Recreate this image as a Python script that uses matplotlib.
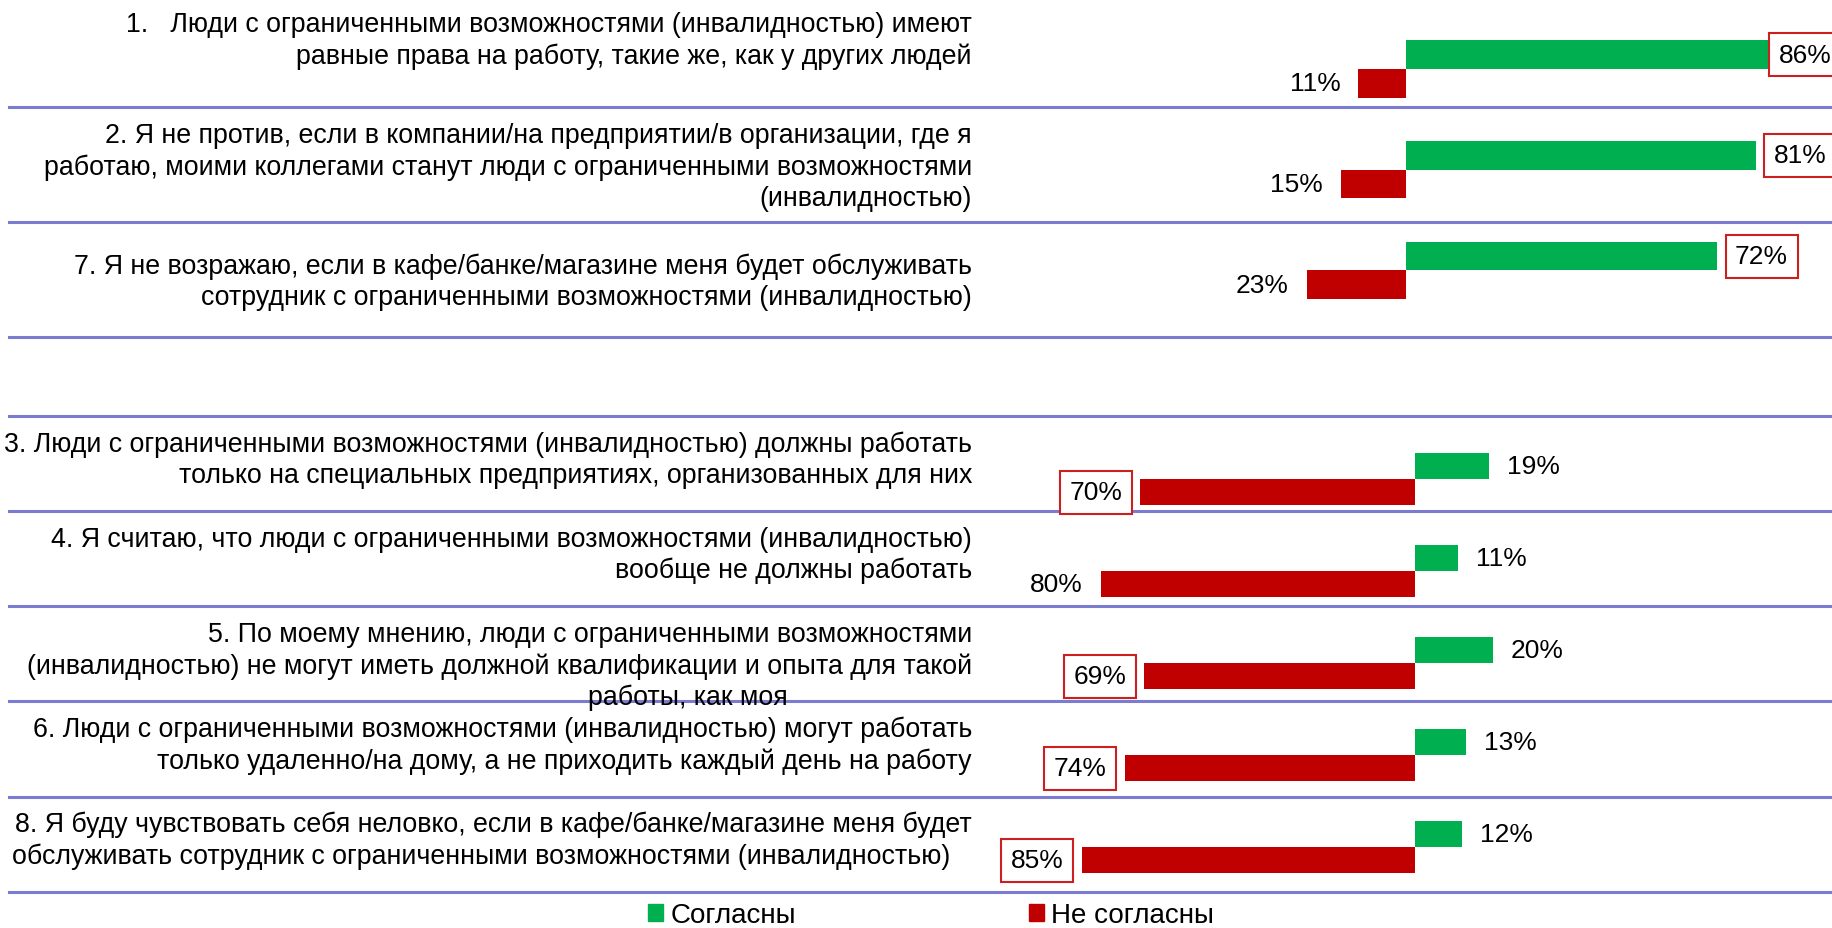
import matplotlib.pyplot as plt
from matplotlib.patches import Patch
from matplotlib.lines import Line2D

plt.rcParams['font.family'] = ['Liberation Sans', 'DejaVu Sans']

# statements with mostly "agree" answers
top_labels = [
    "1.   Люди с ограниченными возможностями (инвалидностью) имеют\n"
    "равные права на работу, такие же, как у других людей",
    "2. Я не против, если в компании/на предприятии/в организации, где я\n"
    "работаю, моими коллегами станут люди с ограниченными возможностями\n"
    "(инвалидностью)",
    "7. Я не возражаю, если в кафе/банке/магазине меня будет обслуживать\n"
    "сотрудник с ограниченными возможностями (инвалидностью)",
]
top_agree = [86, 81, 72]
top_disagree = [11, 15, 23]

# statements with mostly "disagree" answers
bot_labels = [
    "3. Люди с ограниченными возможностями (инвалидностью) должны работать\n"
    "только на специальных предприятиях, организованных для них",
    "4. Я считаю, что люди с ограниченными возможностями (инвалидностью)\n"
    "вообще не должны работать",
    "5. По моему мнению, люди с ограниченными возможностями\n"
    "(инвалидностью) не могут иметь должной квалификации и опыта для такой",
    "6. Люди с ограниченными возможностями (инвалидностью) могут работать\n"
    "только удаленно/на дому, а не приходить каждый день на работу",
    "8. Я буду чувствовать себя неловко, если в кафе/банке/магазине меня будет\n"
    "обслуживать сотрудник с ограниченными возможностями (инвалидностью)   ",
]
bot_tail = "работы, как моя"  # 3rd line of statement 5
bot_agree = [19, 11, 20, 13, 12]
bot_disagree = [70, 80, 69, 74, 85]

legend_names = ["Согласны", "Не согласны"]

# which labels are framed in the original
top_boxed = [True, True, True]
bot_boxed = [True, False, True, True, True]

GREEN = '#00B050'
RED = '#C00000'
BOX_EDGE = '#CC1F1F'
LINE = '#7B7BCF'
FS = 19.25
PFS = 19
LSP = 1.27

W, H = 1833, 929
fig = plt.figure(figsize=(W / 100, H / 100), dpi=100)


def fx(px):
    return px / W


def fy(py):
    return 1 - py / H


box = dict(boxstyle='square,pad=0.36', fc='white', ec=BOX_EDGE, lw=1.5)


def draw_panel(rect, xlim, ylim, agree, disagree, h, pad, agree_box, dis_box, clamp):
    ax = fig.add_axes(rect)
    ax.set_facecolor('none')
    ax.set_zorder(2)
    y = list(range(len(agree)))
    ax.barh([i - h / 2 for i in y], agree, height=h, color=GREEN)
    ax.barh([i + h / 2 for i in y], [-v for v in disagree], height=h, color=RED)
    for i, v in enumerate(agree):
        x = min(v + pad, clamp)
        ax.text(x, i - h / 2, f"{v}%", ha='left', va='center', fontsize=PFS,
                bbox=box if agree_box[i] else None)
    for i, v in enumerate(disagree):
        ax.text(-v - pad, i + h / 2, f"{v}%", ha='right', va='center', fontsize=PFS,
                bbox=box if dis_box[i] else None)
    ax.set_xlim(*xlim)
    ax.set_ylim(*ylim)
    ax.axis('off')
    return ax


# top panel: zero at x=1406px, 4.32 px per %
draw_panel([fx(1000), fy(338), 833 / W, 338 / H],
           ((1000 - 1406) / 4.32, (1833 - 1406) / 4.32),
           ((338 - 70) / 100.7, -70 / 100.7),
           top_agree, top_disagree, 28.7 / 100.7, 18 / 4.32,
           top_boxed, [False] * 3, (1833 - 1406) / 4.32 - 12.5)

# bottom panel: zero at x=1414.7px, 3.92 px per %
draw_panel([fx(1000), fy(895), 833 / W, 478 / H],
           ((1000 - 1414.7) / 3.92, (1833 - 1414.7) / 3.92),
           ((895 - 480) / 92, (417 - 480) / 92),
           bot_agree, bot_disagree, 26 / 92, 18 / 3.92,
           [False] * 5, bot_boxed, 200)

# separators
top_seps = [108 + 115 * k for k in range(3)]
bot_seps = [416.7 + 95.2 * k for k in range(6)]
for s in top_seps + bot_seps:
    fig.add_artist(Line2D([fx(9), 1], [fy(s), fy(s)], color=LINE, lw=2.2, zorder=1))

# statements text
top_slots = [-30] + top_seps
for i, lab in enumerate(top_labels):
    yc = (top_slots[i] + top_slots[i + 1]) / 2 + 2
    fig.text(fx(972), fy(yc), lab, ha='right', va='center', multialignment='right',
             fontsize=FS, linespacing=LSP)
for i, lab in enumerate(bot_labels):
    yc = (bot_seps[i] + bot_seps[i + 1]) / 2 - 4
    fig.text(fx(972), fy(yc), lab, ha='right', va='center', multialignment='right',
             fontsize=FS, linespacing=LSP)
    if i == 2:
        fig.text(fx(688), fy(yc + 47), bot_tail, ha='center', va='center', fontsize=FS)

handles = [Patch(color=GREEN), Patch(color=RED)]
fig.legend(handles, legend_names, loc='center', bbox_to_anchor=(fx(931), fy(916)),
           ncol=2, frameon=False, fontsize=20, handlelength=0.55, handleheight=0.55,
           handletextpad=0.25, columnspacing=8.4, borderpad=0)

fig.savefig('out.png', dpi=100)
